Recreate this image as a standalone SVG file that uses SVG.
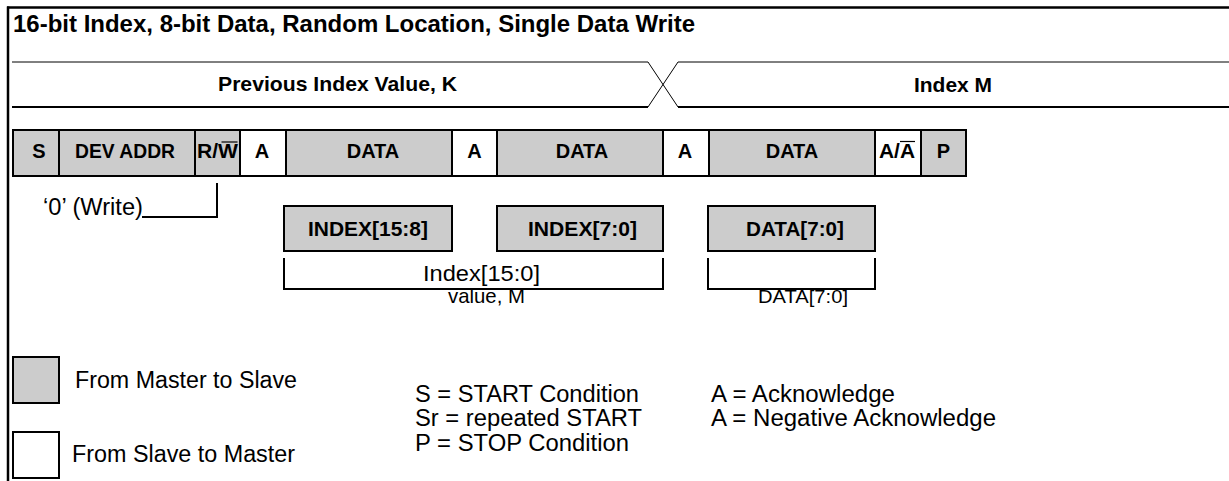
<svg xmlns="http://www.w3.org/2000/svg" width="1229" height="481" viewBox="0 0 1229 481">
<style>
text{font-family:"Liberation Sans",Arial,sans-serif;fill:#000}
.b{font-weight:bold}
.pk{font-size:20px;font-weight:bold;text-anchor:middle}
.g{fill:#cccccc;stroke:#000;stroke-width:2}
.w{fill:#fff;stroke:#000;stroke-width:2}
.ln{fill:none;stroke:#000;stroke-width:2}
.thin{fill:none;stroke:#000;stroke-width:1}
.lg{font-size:23px}
</style>
<rect width="1229" height="481" fill="#fff"/>
<g id="frame">
<line x1="7" y1="7.5" x2="1229" y2="7.5" stroke="#000" stroke-width="2.5"/>
<line x1="8" y1="6.5" x2="8" y2="481" stroke="#000" stroke-width="2.5"/>
<text class="b" x="13" y="32" font-size="23" textLength="682" lengthAdjust="spacingAndGlyphs">16-bit Index, 8-bit Data, Random Location, Single Data Write</text>
</g>
<g id="timing">
<polyline class="thin" points="12,62 648,62 678,107"/>
<polyline class="thin" points="1229,62 678,62 648,107"/>
<line x1="12" y1="107" x2="648" y2="107" stroke="#000" stroke-width="2"/>
<line x1="678" y1="107" x2="1229" y2="107" stroke="#000" stroke-width="2"/>
<text class="b" x="218" y="91" font-size="21" textLength="239" lengthAdjust="spacingAndGlyphs">Previous Index Value, K</text>
<text class="b" x="914" y="92" font-size="21" textLength="78" lengthAdjust="spacingAndGlyphs">Index M</text>
</g>
<g id="packet">
<g id="cell-s"><rect class="g" x="13" y="130" width="46" height="46"/><text class="pk" x="39" y="158">S</text></g>
<g id="cell-devaddr"><rect class="g" x="59" y="130" width="136" height="46"/><text class="pk" x="125" y="158" textLength="100" lengthAdjust="spacingAndGlyphs">DEV ADDR</text></g>
<g id="cell-rw"><rect class="g" x="195" y="130" width="45" height="46"/><text class="b" x="197" y="158" font-size="20" textLength="41" lengthAdjust="spacingAndGlyphs">R/W</text><line x1="221.5" y1="142" x2="237.5" y2="142" stroke="#000" stroke-width="1.2"/></g>
<g id="cell-a1"><rect class="w" x="240" y="130" width="46" height="46"/><text class="pk" x="262" y="158">A</text></g>
<g id="cell-data1"><rect class="g" x="286" y="130" width="166" height="46"/><text class="pk" x="373" y="158">DATA</text></g>
<g id="cell-a2"><rect class="w" x="452" y="130" width="45" height="46"/><text class="pk" x="474.5" y="158">A</text></g>
<g id="cell-data2"><rect class="g" x="497" y="130" width="166" height="46"/><text class="pk" x="582" y="158">DATA</text></g>
<g id="cell-a3"><rect class="w" x="663" y="130" width="46" height="46"/><text class="pk" x="685" y="158">A</text></g>
<g id="cell-data3"><rect class="g" x="709" y="130" width="166" height="46"/><text class="pk" x="792" y="158">DATA</text></g>
<g id="cell-ana"><rect class="w" x="875" y="130" width="46" height="46"/><text class="b" x="879" y="158" font-size="20" textLength="36" lengthAdjust="spacingAndGlyphs">A/A</text><line x1="900" y1="141.5" x2="915" y2="141.5" stroke="#000" stroke-width="1.2"/></g>
<g id="cell-p"><rect class="g" x="921" y="130" width="45" height="46"/><text class="pk" x="943.5" y="158">P</text></g>
</g>
<g id="write-label"><text x="43" y="215" font-size="23" textLength="100" lengthAdjust="spacingAndGlyphs">‘0’ (Write)</text></g>
<g id="index-hi"><rect class="g" x="284" y="206" width="168" height="45"/><text class="b" x="368" y="236" font-size="21" text-anchor="middle" textLength="120" lengthAdjust="spacingAndGlyphs">INDEX[15:8]</text></g>
<g id="index-lo"><rect class="g" x="497" y="206" width="166" height="45"/><text class="b" x="582.5" y="236" font-size="21" text-anchor="middle" textLength="109" lengthAdjust="spacingAndGlyphs">INDEX[7:0]</text></g>
<g id="data-byte"><rect class="g" x="708" y="206" width="167" height="45"/><text class="b" x="795" y="236" font-size="21" text-anchor="middle" textLength="98" lengthAdjust="spacingAndGlyphs">DATA[7:0]</text></g>
<g id="connectors">
<polyline class="ln" points="142,217 217,217 217,183"/>
<polyline class="ln" points="284,258 284,289 663,289 663,258"/>
<polyline class="ln" points="708,258 708,289 875,289 875,258"/>
</g>
<g id="index-value-label">
<text x="423" y="281" font-size="22" textLength="117" lengthAdjust="spacingAndGlyphs">Index[15:0]</text>
<text x="448" y="303" font-size="21" textLength="77" lengthAdjust="spacingAndGlyphs">value, M</text>
</g>
<g id="data-value-label"><text x="758" y="303" font-size="19" textLength="90" lengthAdjust="spacingAndGlyphs">DATA[7:0]</text></g>
<g id="legend-master"><rect class="g" x="13" y="357" width="46" height="46"/><text class="lg" x="75" y="388" textLength="222" lengthAdjust="spacingAndGlyphs">From Master to Slave</text></g>
<g id="legend-slave"><rect class="w" x="13" y="432" width="46" height="46"/><text class="lg" x="72" y="462" textLength="223" lengthAdjust="spacingAndGlyphs">From Slave to Master</text></g>
<g id="legend-conditions">
<text class="lg" x="415" y="402" textLength="224" lengthAdjust="spacingAndGlyphs">S = START Condition</text>
<text class="lg" x="415" y="426" textLength="227" lengthAdjust="spacingAndGlyphs">Sr = repeated START</text>
<text class="lg" x="415" y="451" textLength="214" lengthAdjust="spacingAndGlyphs">P = STOP Condition</text>
</g>
<g id="legend-ack">
<text class="lg" x="711" y="402" textLength="184" lengthAdjust="spacingAndGlyphs">A = Acknowledge</text>
<text class="lg" x="711" y="426" textLength="285" lengthAdjust="spacingAndGlyphs">A = Negative Acknowledge</text>
</g>
</svg>
